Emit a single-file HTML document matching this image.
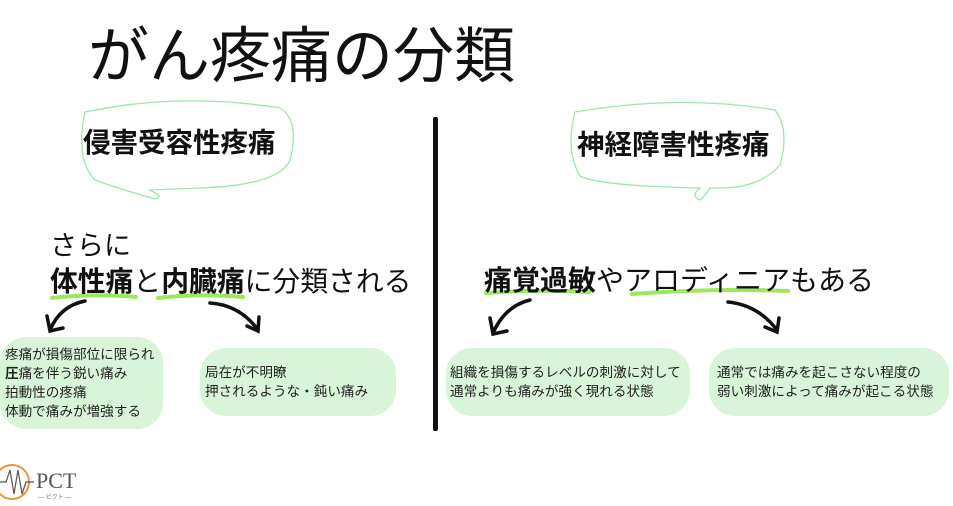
<!DOCTYPE html>
<html><head><meta charset="utf-8"><style>
body{margin:0;width:953px;height:506px;background:#fff;position:relative;overflow:hidden;font-family:"Liberation Sans","Noto Sans CJK JP",sans-serif;color:#111}
.a{position:absolute;white-space:nowrap}
.box{position:absolute;background:#d9f5d9;border-radius:26px}
.sm{font-size:13.6px;line-height:19px;color:#222}
</style></head><body>
<div class="a" style="left:88px;top:6px;font-size:61px;font-weight:400">がん疼痛の分類</div>
<svg class="a" style="left:0;top:0" width="953" height="506">
<path d="M85,112 Q180,92 280,108 Q300,120 290,160 Q280,185 200,188 L150,190 Q165,198 155,199 Q110,186 95,180 Q75,160 85,112Z" fill="none" stroke="#9ee6a8" stroke-width="1.3"/>
<path d="M575,112 Q680,94 775,110 Q790,130 780,165 Q760,188 720,188 L710,188 Q705,196 700,200 Q690,196 700,188 Q600,186 580,176 Q565,150 575,112Z" fill="none" stroke="#9ee6a8" stroke-width="1.3"/>
<rect x="433" y="117" width="5" height="314" fill="#111" rx="2"/>
<g stroke="#9be85a" stroke-width="4" stroke-linecap="round" fill="none">
<path d="M52,298 Q95,293 136,297"/><path d="M158,298 Q200,293 243,297"/>
<path d="M486,293 Q540,289 589,292"/><path d="M632,294 Q710,288 788,291"/>
</g>
<g stroke="#111" stroke-width="3.5" fill="none" stroke-linecap="round">
<path d="M85,301 Q60,306 50,330"/><path d="M47,316 L50,331 L63,328"/>
<path d="M210,303 Q240,305 258,330"/><path d="M247,326 L258,331 L259,317"/>
<path d="M530,300 Q505,306 493,333"/><path d="M490,318 L493,334 L507,331"/>
<path d="M728,302 Q758,305 777,330"/><path d="M765,327 L777,332 L779,318"/>
</g>
<circle cx="12" cy="482" r="17" fill="none" stroke="#e8953a" stroke-width="2"/>
<path d="M0,482 L6,482 L10,470 L14,494 L18,470 L22,494 L26,482 L34,482" fill="none" stroke="#555" stroke-width="1.2"/>
</svg>
<div class="a" style="left:83px;top:120px;font-size:27.5px;font-weight:bold">侵害受容性疼痛</div>
<div class="a" style="left:577px;top:122px;font-size:27.5px;font-weight:bold">神経障害性疼痛</div>
<div class="a" style="left:50px;top:224px;font-size:27px">さらに</div>
<div class="a" style="left:50px;top:260px;font-size:27.8px"><b>体性痛</b>と<b>内臓痛</b>に分類される</div>
<div class="a" style="left:484px;top:259px;font-size:28px"><b>痛覚過敏</b>やアロディニアもある</div>
<div class="box" style="left:0;top:337px;width:163px;height:92px"></div>
<div class="a sm" style="left:5px;top:345px">疼痛が損傷部位に限られ<br><b>圧</b>痛を伴う鋭い痛み<br>拍動性の疼痛<br>体動で痛みが増強する</div>
<div class="box" style="left:200px;top:348px;width:196px;height:68px"></div>
<div class="a sm" style="left:205px;top:363px">局在が不明瞭<br>押されるような・鈍い痛み</div>
<div class="box" style="left:446px;top:348px;width:244px;height:68px"></div>
<div class="a sm" style="left:450px;top:363px">組織を損傷するレベルの刺激に対して<br>通常よりも痛みが強く現れる状態</div>
<div class="box" style="left:709px;top:348px;width:240px;height:68px"></div>
<div class="a sm" style="left:717px;top:363px">通常では痛みを起こさない程度の<br>弱い刺激によって痛みが起こる状態</div>
<div class="a" style="left:36px;top:468px;font-size:22px;font-family:'Liberation Serif',serif;color:#555">PCT</div>
<div class="a" style="left:38px;top:492px;font-size:6px;color:#777">— ピクト —</div>
</body></html>
